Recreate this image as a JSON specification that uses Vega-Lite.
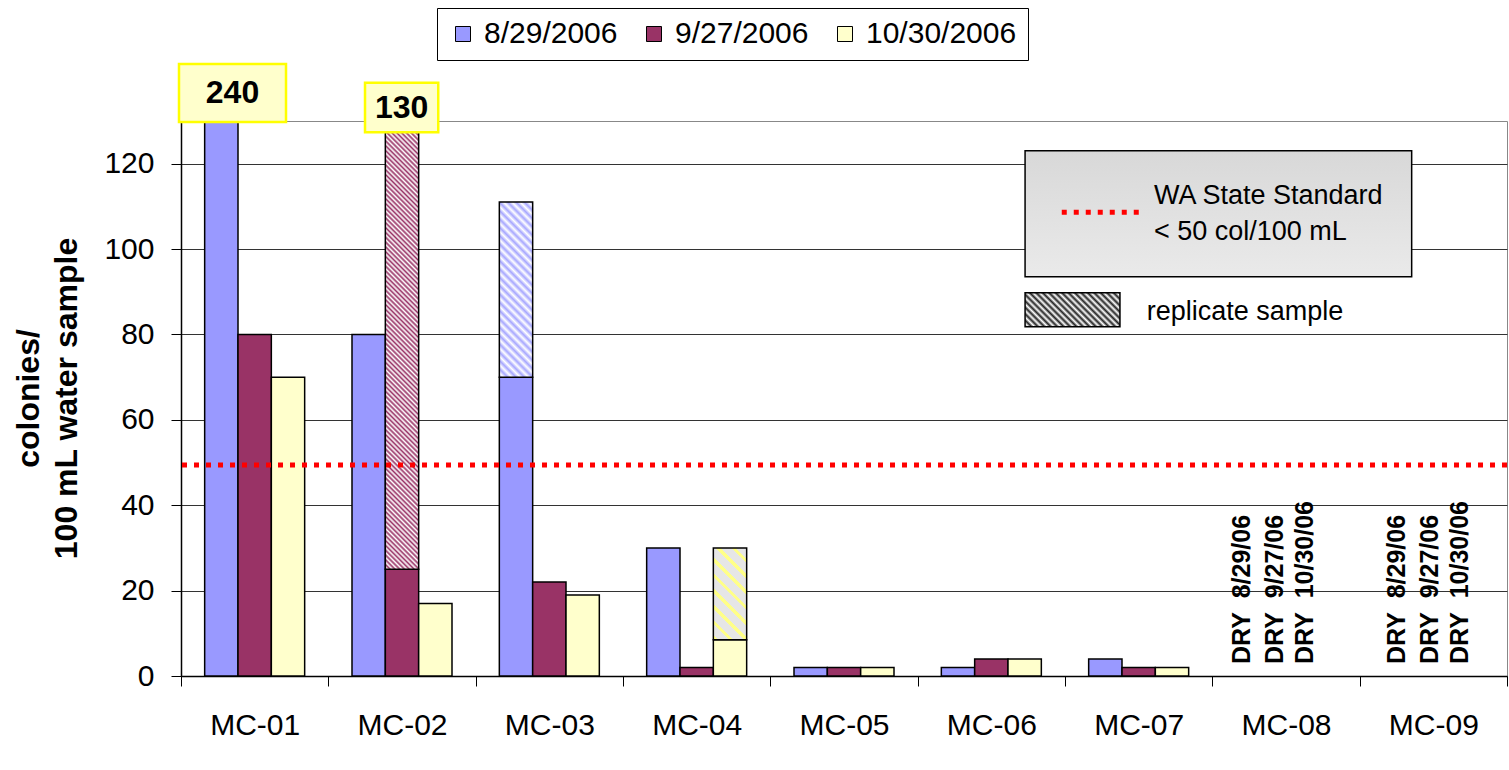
{
  "$schema": "https://vega.github.io/schema/vega-lite/v6.json",
  "width": 1326,
  "height": 555,
  "autosize": {"type": "none"},
  "padding": {"left": 181, "top": 121, "right": 2, "bottom": 94},
  "config": {
    "font": "Liberation Sans",
    "view": {"stroke": "#888888", "strokeWidth": 1}
  },
  "datasets": {
    "bars": [
      {"site": "MC-01", "date": "8/29/2006", "value": 240},
      {"site": "MC-01", "date": "9/27/2006", "value": 80},
      {"site": "MC-01", "date": "10/30/2006", "value": 70},
      {"site": "MC-02", "date": "8/29/2006", "value": 80},
      {"site": "MC-02", "date": "9/27/2006", "value": 25},
      {"site": "MC-02", "date": "10/30/2006", "value": 17},
      {"site": "MC-03", "date": "8/29/2006", "value": 70},
      {"site": "MC-03", "date": "9/27/2006", "value": 22},
      {"site": "MC-03", "date": "10/30/2006", "value": 19},
      {"site": "MC-04", "date": "8/29/2006", "value": 30},
      {"site": "MC-04", "date": "9/27/2006", "value": 2},
      {"site": "MC-04", "date": "10/30/2006", "value": 8.5},
      {"site": "MC-05", "date": "8/29/2006", "value": 2},
      {"site": "MC-05", "date": "9/27/2006", "value": 2},
      {"site": "MC-05", "date": "10/30/2006", "value": 2},
      {"site": "MC-06", "date": "8/29/2006", "value": 2},
      {"site": "MC-06", "date": "9/27/2006", "value": 4},
      {"site": "MC-06", "date": "10/30/2006", "value": 4},
      {"site": "MC-07", "date": "8/29/2006", "value": 4},
      {"site": "MC-07", "date": "9/27/2006", "value": 2},
      {"site": "MC-07", "date": "10/30/2006", "value": 2}
    ],
    "reps": [
      {"site": "MC-02", "date": "9/27/2006", "low": 25, "high": 130},
      {"site": "MC-03", "date": "8/29/2006", "low": 70, "high": 111},
      {"site": "MC-04", "date": "10/30/2006", "low": 8.5, "high": 30}
    ],
    "standard": [{"std": 49.4}],
    "graybox": [{"x1": 5.729, "x2": 8.353, "y1": 123.04, "y2": 93.53}],
    "swatch": [{"x1": 5.729, "x2": 6.373, "y1": 89.78, "y2": 81.82}],
    "stdline": [{"x1": 5.978, "x2": 6.509, "y": 108.6}],
    "legendtext": [
      {"tx": 6.604, "ty": 112.43, "t": "WA State Standard"},
      {"tx": 6.604, "ty": 104.0, "t": "< 50 col/100 mL"},
      {"tx": 6.555, "ty": 85.33, "t": "replicate sample"}
    ],
    "labelboxes": [
      {"x1": -0.0136, "x2": 0.7127, "y1": 143.35, "y2": 129.77, "label": "240", "tx": 0.3496, "ty": 136.56},
      {"x1": 1.249, "x2": 1.746, "y1": 138.97, "y2": 127.35, "label": "130", "tx": 1.498, "ty": 133.16}
    ],
    "dry": [
      {"tx": 7.199, "ty": 2.8, "t": "DRY\u00a0 8/29/06"},
      {"tx": 7.425, "ty": 2.8, "t": "DRY\u00a0 9/27/06"},
      {"tx": 7.629, "ty": 2.8, "t": "DRY\u00a0 10/30/06"},
      {"tx": 8.251, "ty": 2.8, "t": "DRY\u00a0 8/29/06"},
      {"tx": 8.477, "ty": 2.8, "t": "DRY\u00a0 9/27/06"},
      {"tx": 8.681, "ty": 2.8, "t": "DRY\u00a0 10/30/06"}
    ]
  },
  "layer": [
    {
      "data": {"name": "bars"},
      "mark": {"type": "bar", "stroke": "#000000", "strokeWidth": 1.5, "clip": true},
      "encoding": {
        "x": {
          "field": "site", "type": "nominal",
          "scale": {"domain": ["MC-01","MC-02","MC-03","MC-04","MC-05","MC-06","MC-07","MC-08","MC-09"], "paddingInner": 0, "paddingOuter": 0},
          "axis": {"title": null, "labelAngle": 0, "labelFontSize": 30, "labelColor": "#000000", "labelPadding": 24, "tickBand": "extent", "tickSize": 10, "tickColor": "#000000", "tickWidth": 1, "domainColor": "#000000", "domainWidth": 1.5, "grid": false}
        },
        "xOffset": {
          "field": "date", "type": "nominal",
          "scale": {"domain": ["8/29/2006","9/27/2006","10/30/2006"], "paddingOuter": 0.71, "paddingInner": 0}
        },
        "y": {
          "field": "value", "type": "quantitative",
          "scale": {"domain": [0, 130], "nice": false},
          "axis": {
            "values": [0, 20, 40, 60, 80, 100, 120],
            "title": ["colonies/", "100 mL water sample"],
            "titleFontSize": 32, "titleFontWeight": "bold", "titleColor": "#000000",
            "titleX": -168, "titleY": 277, "titleBaseline": "top", "titleAlign": "center", "titleAngle": 270, "titleLineHeight": 38,
            "labelFontSize": 30, "labelColor": "#000000", "labelPadding": 17,
            "tickSize": 10, "tickColor": "#000000", "tickWidth": 1,
            "domainColor": "#000000", "domainWidth": 1.5,
            "grid": true, "gridColor": "#333333", "gridWidth": 1
          }
        },
        "color": {
          "field": "date", "type": "nominal",
          "scale": {"domain": ["8/29/2006","9/27/2006","10/30/2006"], "range": ["#9999FF","#993366","#FFFFCC"]},
          "legend": {
            "title": null, "orient": "none", "legendX": 256, "legendY": -113, "direction": "horizontal",
            "strokeColor": "#000000", "fillColor": "#FFFFFF", "padding": 11,
            "labelFontSize": 30, "labelColor": "#000000", "labelOffset": 6,
            "symbolType": "square", "symbolSize": 225, "symbolStrokeColor": "#000000", "symbolStrokeWidth": 1,
            "columnPadding": 21
          }
        }
      }
    },
    {
      "data": {"name": "reps"},
      "transform": [{"filter": "datum.site === 'MC-02'"}],
      "mark": {
        "type": "bar", "stroke": "#000000", "strokeWidth": 1.5, "clip": true,
        "fill": {"gradient": "linear", "x1": 1, "y1": 0, "x2": 0.92056, "y2": 1.06845, "stops": [
          {"offset":0,"color":"#936"},{"offset":0.005,"color":"#fff"},{"offset":0.01,"color":"#936"},{"offset":0.015,"color":"#fff"},{"offset":0.02,"color":"#936"},{"offset":0.025,"color":"#fff"},{"offset":0.03,"color":"#936"},{"offset":0.035,"color":"#fff"},{"offset":0.04,"color":"#936"},{"offset":0.045,"color":"#fff"},
          {"offset":0.05,"color":"#936"},{"offset":0.055,"color":"#fff"},{"offset":0.06,"color":"#936"},{"offset":0.065,"color":"#fff"},{"offset":0.07,"color":"#936"},{"offset":0.075,"color":"#fff"},{"offset":0.08,"color":"#936"},{"offset":0.085,"color":"#fff"},{"offset":0.09,"color":"#936"},{"offset":0.095,"color":"#fff"},
          {"offset":0.1,"color":"#936"},{"offset":0.105,"color":"#fff"},{"offset":0.11,"color":"#936"},{"offset":0.115,"color":"#fff"},{"offset":0.12,"color":"#936"},{"offset":0.125,"color":"#fff"},{"offset":0.13,"color":"#936"},{"offset":0.135,"color":"#fff"},{"offset":0.14,"color":"#936"},{"offset":0.145,"color":"#fff"},
          {"offset":0.15,"color":"#936"},{"offset":0.155,"color":"#fff"},{"offset":0.16,"color":"#936"},{"offset":0.165,"color":"#fff"},{"offset":0.17,"color":"#936"},{"offset":0.175,"color":"#fff"},{"offset":0.18,"color":"#936"},{"offset":0.185,"color":"#fff"},{"offset":0.19,"color":"#936"},{"offset":0.195,"color":"#fff"},
          {"offset":0.2,"color":"#936"},{"offset":0.205,"color":"#fff"},{"offset":0.21,"color":"#936"},{"offset":0.215,"color":"#fff"},{"offset":0.22,"color":"#936"},{"offset":0.225,"color":"#fff"},{"offset":0.23,"color":"#936"},{"offset":0.235,"color":"#fff"},{"offset":0.24,"color":"#936"},{"offset":0.245,"color":"#fff"},
          {"offset":0.25,"color":"#936"},{"offset":0.255,"color":"#fff"},{"offset":0.26,"color":"#936"},{"offset":0.265,"color":"#fff"},{"offset":0.27,"color":"#936"},{"offset":0.275,"color":"#fff"},{"offset":0.28,"color":"#936"},{"offset":0.285,"color":"#fff"},{"offset":0.29,"color":"#936"},{"offset":0.295,"color":"#fff"},
          {"offset":0.3,"color":"#936"},{"offset":0.305,"color":"#fff"},{"offset":0.31,"color":"#936"},{"offset":0.315,"color":"#fff"},{"offset":0.32,"color":"#936"},{"offset":0.325,"color":"#fff"},{"offset":0.33,"color":"#936"},{"offset":0.335,"color":"#fff"},{"offset":0.34,"color":"#936"},{"offset":0.345,"color":"#fff"},
          {"offset":0.35,"color":"#936"},{"offset":0.355,"color":"#fff"},{"offset":0.36,"color":"#936"},{"offset":0.365,"color":"#fff"},{"offset":0.37,"color":"#936"},{"offset":0.375,"color":"#fff"},{"offset":0.38,"color":"#936"},{"offset":0.385,"color":"#fff"},{"offset":0.39,"color":"#936"},{"offset":0.395,"color":"#fff"},
          {"offset":0.4,"color":"#936"},{"offset":0.405,"color":"#fff"},{"offset":0.41,"color":"#936"},{"offset":0.415,"color":"#fff"},{"offset":0.42,"color":"#936"},{"offset":0.425,"color":"#fff"},{"offset":0.43,"color":"#936"},{"offset":0.435,"color":"#fff"},{"offset":0.44,"color":"#936"},{"offset":0.445,"color":"#fff"},
          {"offset":0.45,"color":"#936"},{"offset":0.455,"color":"#fff"},{"offset":0.46,"color":"#936"},{"offset":0.465,"color":"#fff"},{"offset":0.47,"color":"#936"},{"offset":0.475,"color":"#fff"},{"offset":0.48,"color":"#936"},{"offset":0.485,"color":"#fff"},{"offset":0.49,"color":"#936"},{"offset":0.495,"color":"#fff"},
          {"offset":0.5,"color":"#936"},{"offset":0.505,"color":"#fff"},{"offset":0.51,"color":"#936"},{"offset":0.515,"color":"#fff"},{"offset":0.52,"color":"#936"},{"offset":0.525,"color":"#fff"},{"offset":0.53,"color":"#936"},{"offset":0.535,"color":"#fff"},{"offset":0.54,"color":"#936"},{"offset":0.545,"color":"#fff"},
          {"offset":0.55,"color":"#936"},{"offset":0.555,"color":"#fff"},{"offset":0.56,"color":"#936"},{"offset":0.565,"color":"#fff"},{"offset":0.57,"color":"#936"},{"offset":0.575,"color":"#fff"},{"offset":0.58,"color":"#936"},{"offset":0.585,"color":"#fff"},{"offset":0.59,"color":"#936"},{"offset":0.595,"color":"#fff"},
          {"offset":0.6,"color":"#936"},{"offset":0.605,"color":"#fff"},{"offset":0.61,"color":"#936"},{"offset":0.615,"color":"#fff"},{"offset":0.62,"color":"#936"},{"offset":0.625,"color":"#fff"},{"offset":0.63,"color":"#936"},{"offset":0.635,"color":"#fff"},{"offset":0.64,"color":"#936"},{"offset":0.645,"color":"#fff"},
          {"offset":0.65,"color":"#936"},{"offset":0.655,"color":"#fff"},{"offset":0.66,"color":"#936"},{"offset":0.665,"color":"#fff"},{"offset":0.67,"color":"#936"},{"offset":0.675,"color":"#fff"},{"offset":0.68,"color":"#936"},{"offset":0.685,"color":"#fff"},{"offset":0.69,"color":"#936"},{"offset":0.695,"color":"#fff"},
          {"offset":0.7,"color":"#936"},{"offset":0.705,"color":"#fff"},{"offset":0.71,"color":"#936"},{"offset":0.715,"color":"#fff"},{"offset":0.72,"color":"#936"},{"offset":0.725,"color":"#fff"},{"offset":0.73,"color":"#936"},{"offset":0.735,"color":"#fff"},{"offset":0.74,"color":"#936"},{"offset":0.745,"color":"#fff"},
          {"offset":0.75,"color":"#936"},{"offset":0.755,"color":"#fff"},{"offset":0.76,"color":"#936"},{"offset":0.765,"color":"#fff"},{"offset":0.77,"color":"#936"},{"offset":0.775,"color":"#fff"},{"offset":0.78,"color":"#936"},{"offset":0.785,"color":"#fff"},{"offset":0.79,"color":"#936"},{"offset":0.795,"color":"#fff"},
          {"offset":0.8,"color":"#936"},{"offset":0.805,"color":"#fff"},{"offset":0.81,"color":"#936"},{"offset":0.815,"color":"#fff"},{"offset":0.82,"color":"#936"},{"offset":0.825,"color":"#fff"},{"offset":0.83,"color":"#936"},{"offset":0.835,"color":"#fff"},{"offset":0.84,"color":"#936"},{"offset":0.845,"color":"#fff"},
          {"offset":0.85,"color":"#936"},{"offset":0.855,"color":"#fff"},{"offset":0.86,"color":"#936"},{"offset":0.865,"color":"#fff"},{"offset":0.87,"color":"#936"},{"offset":0.875,"color":"#fff"},{"offset":0.88,"color":"#936"},{"offset":0.885,"color":"#fff"},{"offset":0.89,"color":"#936"},{"offset":0.895,"color":"#fff"},
          {"offset":0.9,"color":"#936"},{"offset":0.905,"color":"#fff"},{"offset":0.91,"color":"#936"},{"offset":0.915,"color":"#fff"},{"offset":0.92,"color":"#936"},{"offset":0.925,"color":"#fff"},{"offset":0.93,"color":"#936"},{"offset":0.935,"color":"#fff"},{"offset":0.94,"color":"#936"},{"offset":0.945,"color":"#fff"},
          {"offset":0.95,"color":"#936"},{"offset":0.955,"color":"#fff"},{"offset":0.96,"color":"#936"},{"offset":0.965,"color":"#fff"},{"offset":0.97,"color":"#936"},{"offset":0.975,"color":"#fff"},{"offset":0.98,"color":"#936"},{"offset":0.985,"color":"#fff"},{"offset":0.99,"color":"#936"},{"offset":0.995,"color":"#fff"},
          {"offset":1,"color":"#936"}
        ]}
      },
      "encoding": {
        "x": {"field": "site", "type": "nominal", "scale": {"domain": ["MC-01","MC-02","MC-03","MC-04","MC-05","MC-06","MC-07","MC-08","MC-09"], "paddingInner": 0, "paddingOuter": 0}, "axis": null},
        "xOffset": {"field": "date", "type": "nominal", "scale": {"domain": ["8/29/2006","9/27/2006","10/30/2006"], "paddingOuter": 0.71, "paddingInner": 0}},
        "y": {"field": "low", "type": "quantitative", "scale": {"domain": [0, 130], "nice": false}},
        "y2": {"field": "high"}
      }
    },
    {
      "data": {"name": "reps"},
      "transform": [{"filter": "datum.site === 'MC-03'"}],
      "mark": {
        "type": "bar", "stroke": "#000000", "strokeWidth": 1.5, "clip": true,
        "fill": {"gradient": "linear", "x1": 1, "y1": 0, "x2": 0.78126, "y2": 1.14876, "stops": [
          {"offset":0,"color":"#a6a6ff"},{"offset":0.02,"color":"#fff"},{"offset":0.04,"color":"#a6a6ff"},{"offset":0.06,"color":"#fff"},{"offset":0.08,"color":"#a6a6ff"},{"offset":0.1,"color":"#fff"},{"offset":0.12,"color":"#a6a6ff"},{"offset":0.14,"color":"#fff"},{"offset":0.16,"color":"#a6a6ff"},{"offset":0.18,"color":"#fff"},
          {"offset":0.2,"color":"#a6a6ff"},{"offset":0.22,"color":"#fff"},{"offset":0.24,"color":"#a6a6ff"},{"offset":0.26,"color":"#fff"},{"offset":0.28,"color":"#a6a6ff"},{"offset":0.3,"color":"#fff"},{"offset":0.32,"color":"#a6a6ff"},{"offset":0.34,"color":"#fff"},{"offset":0.36,"color":"#a6a6ff"},{"offset":0.38,"color":"#fff"},
          {"offset":0.4,"color":"#a6a6ff"},{"offset":0.42,"color":"#fff"},{"offset":0.44,"color":"#a6a6ff"},{"offset":0.46,"color":"#fff"},{"offset":0.48,"color":"#a6a6ff"},{"offset":0.5,"color":"#fff"},{"offset":0.52,"color":"#a6a6ff"},{"offset":0.54,"color":"#fff"},{"offset":0.56,"color":"#a6a6ff"},{"offset":0.58,"color":"#fff"},
          {"offset":0.6,"color":"#a6a6ff"},{"offset":0.62,"color":"#fff"},{"offset":0.64,"color":"#a6a6ff"},{"offset":0.66,"color":"#fff"},{"offset":0.68,"color":"#a6a6ff"},{"offset":0.7,"color":"#fff"},{"offset":0.72,"color":"#a6a6ff"},{"offset":0.74,"color":"#fff"},{"offset":0.76,"color":"#a6a6ff"},{"offset":0.78,"color":"#fff"},
          {"offset":0.8,"color":"#a6a6ff"},{"offset":0.82,"color":"#fff"},{"offset":0.84,"color":"#a6a6ff"},{"offset":0.86,"color":"#fff"},{"offset":0.88,"color":"#a6a6ff"},{"offset":0.9,"color":"#fff"},{"offset":0.92,"color":"#a6a6ff"},{"offset":0.94,"color":"#fff"},{"offset":0.96,"color":"#a6a6ff"},{"offset":0.98,"color":"#fff"},
          {"offset":1,"color":"#a6a6ff"}
        ]}
      },
      "encoding": {
        "x": {"field": "site", "type": "nominal", "scale": {"domain": ["MC-01","MC-02","MC-03","MC-04","MC-05","MC-06","MC-07","MC-08","MC-09"], "paddingInner": 0, "paddingOuter": 0}, "axis": null},
        "xOffset": {"field": "date", "type": "nominal", "scale": {"domain": ["8/29/2006","9/27/2006","10/30/2006"], "paddingOuter": 0.71, "paddingInner": 0}},
        "y": {"field": "low", "type": "quantitative", "scale": {"domain": [0, 130], "nice": false}},
        "y2": {"field": "high"}
      }
    },
    {
      "data": {"name": "reps"},
      "transform": [{"filter": "datum.site === 'MC-04'"}],
      "mark": {
        "type": "bar", "stroke": "#000000", "strokeWidth": 1.5, "clip": true,
        "fill": {"gradient": "linear", "x1": 1, "y1": 0, "x2": 0.56268, "y2": 1.20437, "stops": [
          {"offset":0,"color":"#e6e6e6"},{"offset":0.0875,"color":"#e6e6e6"},{"offset":0.0875,"color":"#ffff88"},{"offset":0.125,"color":"#ffff88"},
          {"offset":0.125,"color":"#e6e6e6"},{"offset":0.2125,"color":"#e6e6e6"},{"offset":0.2125,"color":"#ffff88"},{"offset":0.25,"color":"#ffff88"},
          {"offset":0.25,"color":"#e6e6e6"},{"offset":0.3375,"color":"#e6e6e6"},{"offset":0.3375,"color":"#ffff88"},{"offset":0.375,"color":"#ffff88"},
          {"offset":0.375,"color":"#e6e6e6"},{"offset":0.4625,"color":"#e6e6e6"},{"offset":0.4625,"color":"#ffff88"},{"offset":0.5,"color":"#ffff88"},
          {"offset":0.5,"color":"#e6e6e6"},{"offset":0.5875,"color":"#e6e6e6"},{"offset":0.5875,"color":"#ffff88"},{"offset":0.625,"color":"#ffff88"},
          {"offset":0.625,"color":"#e6e6e6"},{"offset":0.7125,"color":"#e6e6e6"},{"offset":0.7125,"color":"#ffff88"},{"offset":0.75,"color":"#ffff88"},
          {"offset":0.75,"color":"#e6e6e6"},{"offset":0.8375,"color":"#e6e6e6"},{"offset":0.8375,"color":"#ffff88"},{"offset":0.875,"color":"#ffff88"},
          {"offset":0.875,"color":"#e6e6e6"},{"offset":0.9625,"color":"#e6e6e6"},{"offset":0.9625,"color":"#ffff88"},{"offset":1,"color":"#ffff88"}
        ]}
      },
      "encoding": {
        "x": {"field": "site", "type": "nominal", "scale": {"domain": ["MC-01","MC-02","MC-03","MC-04","MC-05","MC-06","MC-07","MC-08","MC-09"], "paddingInner": 0, "paddingOuter": 0}, "axis": null},
        "xOffset": {"field": "date", "type": "nominal", "scale": {"domain": ["8/29/2006","9/27/2006","10/30/2006"], "paddingOuter": 0.71, "paddingInner": 0}},
        "y": {"field": "low", "type": "quantitative", "scale": {"domain": [0, 130], "nice": false}},
        "y2": {"field": "high"}
      }
    },
    {
      "data": {"name": "standard"},
      "mark": {"type": "rule", "color": "#FF0000", "strokeWidth": 5, "strokeDash": [5, 7], "strokeCap": "butt"},
      "encoding": {"y": {"field": "std", "type": "quantitative", "scale": {"domain": [0, 130], "nice": false}}}
    },
    {
      "data": {"name": "graybox"},
      "mark": {"type": "rect", "stroke": "#000000", "strokeWidth": 1.5,
        "fill": {"gradient": "linear", "x1": 0, "y1": 0, "x2": 0, "y2": 1, "stops": [{"offset": 0, "color": "#D8D8D8"}, {"offset": 1, "color": "#EAEAEA"}]}},
      "encoding": {
        "x": {"field": "x1", "type": "quantitative", "scale": {"domain": [0, 9], "nice": false, "zero": false}, "axis": null},
        "x2": {"field": "x2"},
        "y": {"field": "y1", "type": "quantitative", "scale": {"domain": [0, 130], "nice": false}},
        "y2": {"field": "y2"}
      }
    },
    {
      "data": {"name": "swatch"},
      "mark": {"type": "rect", "stroke": "#000000", "strokeWidth": 1.5,
        "fill": {"gradient": "linear", "x1": 1, "y1": 0, "x2": -0.2037, "y2": 0.4308, "stops": [
          {"offset":0,"color":"#222"},{"offset":0.025,"color":"#fff"},{"offset":0.05,"color":"#222"},{"offset":0.075,"color":"#fff"},{"offset":0.1,"color":"#222"},{"offset":0.125,"color":"#fff"},{"offset":0.15,"color":"#222"},{"offset":0.175,"color":"#fff"},{"offset":0.2,"color":"#222"},{"offset":0.225,"color":"#fff"},
          {"offset":0.25,"color":"#222"},{"offset":0.275,"color":"#fff"},{"offset":0.3,"color":"#222"},{"offset":0.325,"color":"#fff"},{"offset":0.35,"color":"#222"},{"offset":0.375,"color":"#fff"},{"offset":0.4,"color":"#222"},{"offset":0.425,"color":"#fff"},{"offset":0.45,"color":"#222"},{"offset":0.475,"color":"#fff"},
          {"offset":0.5,"color":"#222"},{"offset":0.525,"color":"#fff"},{"offset":0.55,"color":"#222"},{"offset":0.575,"color":"#fff"},{"offset":0.6,"color":"#222"},{"offset":0.625,"color":"#fff"},{"offset":0.65,"color":"#222"},{"offset":0.675,"color":"#fff"},{"offset":0.7,"color":"#222"},{"offset":0.725,"color":"#fff"},
          {"offset":0.75,"color":"#222"},{"offset":0.775,"color":"#fff"},{"offset":0.8,"color":"#222"},{"offset":0.825,"color":"#fff"},{"offset":0.85,"color":"#222"},{"offset":0.875,"color":"#fff"},{"offset":0.9,"color":"#222"},{"offset":0.925,"color":"#fff"},{"offset":0.95,"color":"#222"},{"offset":0.975,"color":"#fff"},
          {"offset":1,"color":"#222"}
        ]}},
      "encoding": {
        "x": {"field": "x1", "type": "quantitative", "scale": {"domain": [0, 9], "nice": false, "zero": false}, "axis": null},
        "x2": {"field": "x2"},
        "y": {"field": "y1", "type": "quantitative", "scale": {"domain": [0, 130], "nice": false}},
        "y2": {"field": "y2"}
      }
    },
    {
      "data": {"name": "stdline"},
      "mark": {"type": "rule", "color": "#FF0000", "strokeWidth": 5, "strokeDash": [5, 7], "strokeCap": "butt"},
      "encoding": {
        "x": {"field": "x1", "type": "quantitative", "scale": {"domain": [0, 9], "nice": false, "zero": false}, "axis": null},
        "x2": {"field": "x2"},
        "y": {"field": "y", "type": "quantitative", "scale": {"domain": [0, 130], "nice": false}}
      }
    },
    {
      "data": {"name": "legendtext"},
      "mark": {"type": "text", "align": "left", "baseline": "middle", "fontSize": 27, "color": "#000000"},
      "encoding": {
        "x": {"field": "tx", "type": "quantitative", "scale": {"domain": [0, 9], "nice": false, "zero": false}, "axis": null},
        "y": {"field": "ty", "type": "quantitative", "scale": {"domain": [0, 130], "nice": false}},
        "text": {"field": "t"}
      }
    },
    {
      "data": {"name": "labelboxes"},
      "mark": {"type": "rect", "fill": "#FFFFCC", "stroke": "#FFFF00", "strokeWidth": 2.5},
      "encoding": {
        "x": {"field": "x1", "type": "quantitative", "scale": {"domain": [0, 9], "nice": false, "zero": false}, "axis": null},
        "x2": {"field": "x2"},
        "y": {"field": "y1", "type": "quantitative", "scale": {"domain": [0, 130], "nice": false}},
        "y2": {"field": "y2"}
      }
    },
    {
      "data": {"name": "labelboxes"},
      "mark": {"type": "text", "align": "center", "baseline": "middle", "fontSize": 32, "fontWeight": "bold", "color": "#000000"},
      "encoding": {
        "x": {"field": "tx", "type": "quantitative", "scale": {"domain": [0, 9], "nice": false, "zero": false}, "axis": null},
        "y": {"field": "ty", "type": "quantitative", "scale": {"domain": [0, 130], "nice": false}},
        "text": {"field": "label"}
      }
    },
    {
      "data": {"name": "dry"},
      "mark": {"type": "text", "align": "left", "baseline": "middle", "angle": 270, "fontSize": 25, "fontWeight": "bold", "color": "#000000"},
      "encoding": {
        "x": {"field": "tx", "type": "quantitative", "scale": {"domain": [0, 9], "nice": false, "zero": false}, "axis": null},
        "y": {"field": "ty", "type": "quantitative", "scale": {"domain": [0, 130], "nice": false}},
        "text": {"field": "t"}
      }
    }
  ],
  "resolve": {"scale": {"x": "independent", "xOffset": "independent"}}
}
